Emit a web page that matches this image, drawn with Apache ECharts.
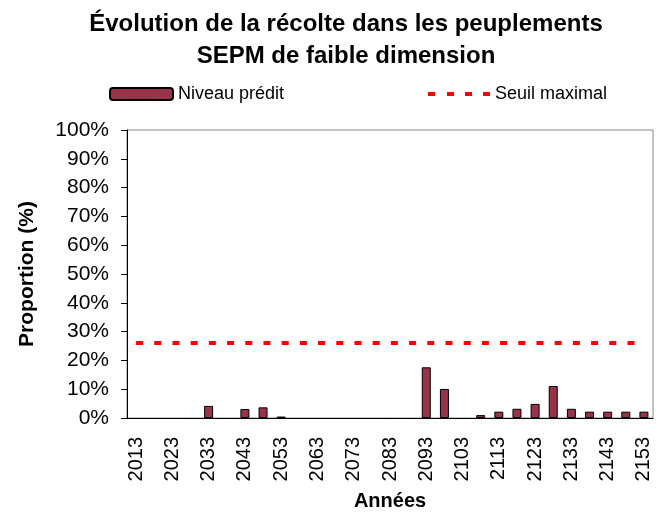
<!DOCTYPE html>
<html>
<head>
<meta charset="utf-8">
<script src="https://cdn.jsdelivr.net/npm/echarts@6/dist/echarts.min.js"></script>
<style>
  html, body { margin: 0; padding: 0; background: #fff; }
  #chart { width: 662px; height: 513px; }
</style>
</head>
<body>
<div id="chart"></div>
<script>
// données
var annees = ["2013", "2018", "2023", "2028", "2033", "2038", "2043", "2048", "2053", "2058",
  "2063", "2068", "2073", "2078", "2083", "2088", "2093", "2098", "2103", "2108",
  "2113", "2118", "2123", "2128", "2133", "2138", "2143", "2148", "2153"];
var niveauPredit = [0, 0, 0, 0, 4.2, 0, 3.1, 3.7, 0.5, 0,
  0, 0, 0, 0, 0, 0, 17.6, 10.1, 0, 1.0,
  2.2, 3.2, 4.9, 11.1, 3.2, 2.2, 2.2, 2.2, 2.2];
var seuilMaximal = [26, 26, 26, 26, 26, 26, 26, 26, 26, 26,
  26, 26, 26, 26, 26, 26, 26, 26, 26, 26,
  26, 26, 26, 26, 26, 26, 26, 26, 26];

(function () {
  var font = "Liberation Sans, Arial, sans-serif";
  var myChart = echarts.init(document.getElementById("chart"));
  // les barres à zéro ne sont pas dessinées
  var barres = niveauPredit.map(function (v) { return v === 0 ? null : v; });
  var option = {
    animation: false,
    textStyle: { fontFamily: font, color: "#000" },
    title: {
      text: "Évolution de la récolte dans les peuplements\nSEPM de faible dimension",
      left: 341,
      textAlign: "center",
      top: 3,
      textStyle: { fontFamily: font, fontSize: 24, fontWeight: "bold", lineHeight: 32, color: "#000" }
    },
    legend: [
      {
        data: ["Niveau prédit"],
        left: 109,
        top: 85,
        padding: 0,
        itemWidth: 63,
        itemHeight: 12,
        itemGap: 5,
        textStyle: { fontFamily: font, fontSize: 18, color: "#000" }
      },
      {
        // pointillés du seuil dans la légende
        data: [{ name: "Seuil maximal", icon: "path://M0,0L7,0L7,4L0,4ZM19,0L26,0L26,4L19,4ZM37,0L44,0L44,4L37,4ZM55,0L62,0L62,4L55,4Z" }],
        left: 428,
        top: 85,
        padding: 0,
        itemWidth: 62,
        itemHeight: 4,
        itemStyle: { color: "#ff0000", borderWidth: 0 },
        lineStyle: { width: 0 },
        textStyle: { fontFamily: font, fontSize: 18, color: "#000" }
      }
    ],
    grid: {
      left: 127,
      right: 9,
      top: 130,
      bottom: 95,
      outerBoundsMode: "none",
      show: true,
      borderColor: "#888",
      borderWidth: 1
    },
    xAxis: {
      type: "category",
      data: annees,
      boundaryGap: true,
      name: "Années",
      nameLocation: "middle",
      nameGap: 73,
      nameTextStyle: { fontFamily: font, fontSize: 20, fontWeight: "bold", color: "#000" },
      axisLine: { lineStyle: { color: "#000", width: 1 } },
      axisTick: { interval: 0, length: 5, lineStyle: { color: "#000" } },
      axisLabel: {
        interval: 1,
        rotate: 90,
        margin: 19,
        fontFamily: font,
        fontSize: 20,
        color: "#000"
      },
      splitLine: { show: false }
    },
    yAxis: {
      type: "value",
      min: 0,
      max: 100,
      interval: 10,
      name: "Proportion (%)",
      nameLocation: "middle",
      nameGap: 89,
      nameTextStyle: { fontFamily: font, fontSize: 21, fontWeight: "bold", color: "#000" },
      axisLine: { show: true, lineStyle: { color: "#000", width: 1 } },
      axisTick: { show: true, length: 6, lineStyle: { color: "#000" } },
      axisLabel: {
        formatter: "{value}%",
        margin: 18,
        fontFamily: font,
        fontSize: 21,
        color: "#000"
      },
      splitLine: { show: false }
    },
    series: [
      {
        name: "Niveau prédit",
        type: "bar",
        data: barres,
        barWidth: 9,
        itemStyle: { color: "#993347", borderColor: "#000", borderWidth: 1 }
      },
      {
        name: "Seuil maximal",
        type: "line",
        data: seuilMaximal,
        symbol: "none",
        lineStyle: { color: "#ff0000", width: 4, type: [7, 11.2], cap: "butt" },
        itemStyle: { color: "#ff0000" }
      }
    ]
  };
  myChart.setOption(option);
})();
</script>
</body>
</html>
